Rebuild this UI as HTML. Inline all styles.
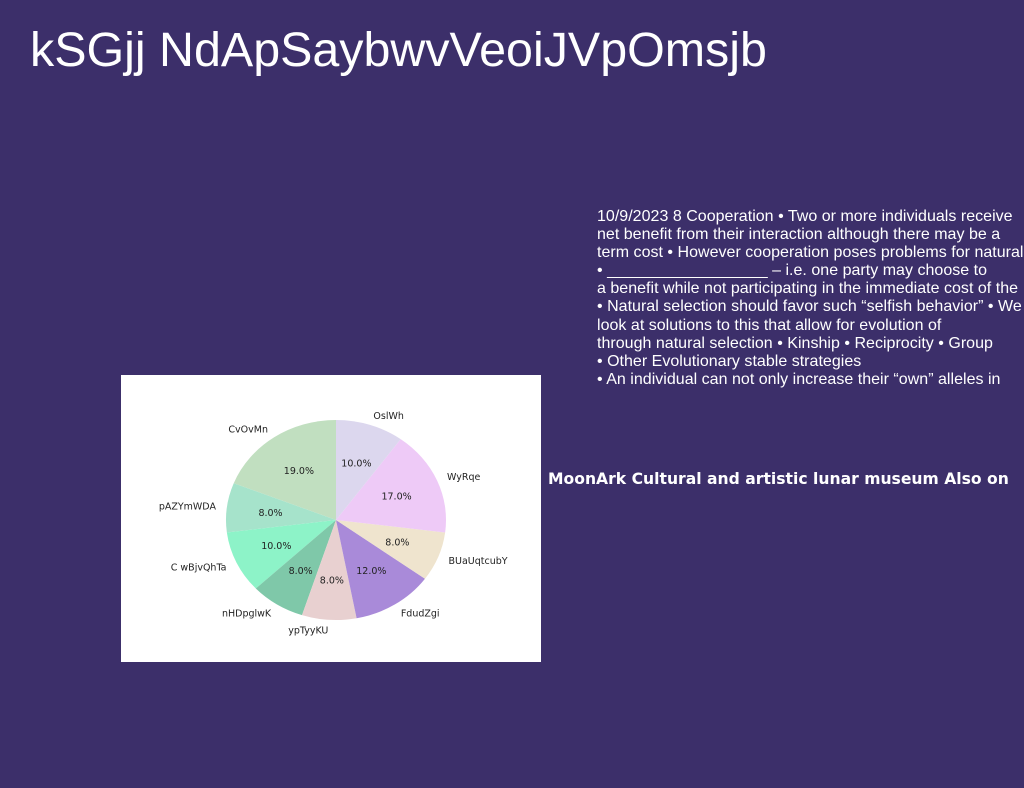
<!DOCTYPE html>
<html><head><meta charset="utf-8"><style>
body{margin:0;width:1024px;height:788px;background:#3c2f6a;overflow:hidden;position:relative;font-family:"Liberation Sans",sans-serif;color:#fff}
#title{position:absolute;left:30px;top:22px;font-size:48.4px;white-space:nowrap}
#notes{position:absolute;left:597px;top:208px;font-size:16px;line-height:18.1px;white-space:nowrap;letter-spacing:0.02px}
#moon{position:absolute;left:548px;top:470px;font-family:"DejaVu Sans",sans-serif;font-weight:bold;font-size:15.6px;white-space:nowrap}
#chart{position:absolute;left:121px;top:375px;width:420px;height:287px;background:#fff}
</style></head><body>
<div id="title">kSGjj NdApSaybwvVeoiJVpOmsjb</div>
<div id="notes">10/9/2023 8 Cooperation • Two or more individuals receive<br>net benefit from their interaction although there may be a<br>term cost • However cooperation poses problems for natural<br>• __________________ – i.e. one party may choose to<br>a benefit while not participating in the immediate cost of the<br>• Natural selection should favor such “selfish behavior” • We<br>look at solutions to this that allow for evolution of<br>through natural selection • Kinship • Reciprocity • Group<br>• Other Evolutionary stable strategies<br>• An individual can not only increase their “own” alleles in</div>
<div id="moon">MoonArk Cultural and artistic lunar museum Also on</div>
<svg id="chart" width="420" height="287"></svg>
<script>
const labels=["CvOvMn","pAZYmWDA","C wBjvQhTa","nHDpglwK","ypTyyKU","FdudZgi","BUaUqtcubY","WyRqe","OslWh"];
const values=[19,8,10,8,8,12,8,17,10];
const colors=["#c1dfc0","#a6e3cb","#8df3c8","#7fc8a9","#e8d0d0","#a98ad9","#efe4ce","#eecaf7","#dcd7ee"];
const svg=document.getElementById('chart');
const NS="http://www.w3.org/2000/svg";
const cx=215,cy=145,rx=110,ry=100;
const total=values.reduce((a,b)=>a+b,0);
let ang=90;
function pt(a,k){const t=a*Math.PI/180;return [cx+k*rx*Math.cos(t),cy-k*ry*Math.sin(t)];}
values.forEach((v,i)=>{
  const sweep=v/total*360,a0=ang,a1=ang+sweep;
  const p0=pt(a0,1),p1=pt(a1,1);
  const path=document.createElementNS(NS,'path');
  path.setAttribute('d',`M${cx},${cy}L${p0[0]},${p0[1]}A${rx},${ry} 0 ${sweep>180?1:0} 0 ${p1[0]},${p1[1]}Z`);
  path.setAttribute('fill',colors[i]);
  
  
  svg.appendChild(path);
  const mid=(a0+a1)/2;
  const lp=pt(mid,1.1);
  const c=Math.cos(mid*Math.PI/180);
  const lt=document.createElementNS(NS,'text');
  lt.setAttribute('x',lp[0]);lt.setAttribute('y',lp[1]+3.5);
  lt.setAttribute('text-anchor',c>0.01?'start':(c<-0.01?'end':'middle'));
  lt.setAttribute('font-size','9.5');lt.setAttribute('fill','#222');
  lt.setAttribute('font-family','DejaVu Sans, sans-serif');
  lt.textContent=labels[i];
  
  
  svg.appendChild(lt);
  const pp=pt(mid,0.6);
  const pt2=document.createElementNS(NS,'text');
  pt2.setAttribute('x',pp[0]);pt2.setAttribute('y',pp[1]+3.5);
  pt2.setAttribute('text-anchor','middle');
  pt2.setAttribute('font-size','9.5');pt2.setAttribute('fill','#222');
  pt2.setAttribute('font-family','DejaVu Sans, sans-serif');
  pt2.textContent=(v/total*100).toFixed(1)+'%';
  
  
  svg.appendChild(pt2);
  ang=a1;
});
</script>
</body></html>
